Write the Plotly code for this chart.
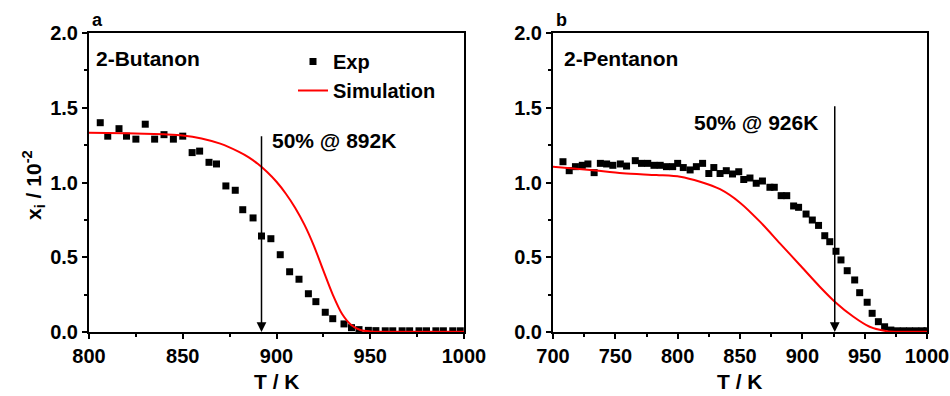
import plotly.graph_objects as go

# ---------------- data ----------------
left_exp_T = [806, 810, 816, 820, 825, 830, 835, 840, 845, 850, 855, 859, 864, 868, 873, 878, 882,
              887.5, 892, 897, 902, 907, 912, 917, 921, 926, 930, 936, 940, 944, 949, 953, 958,
              962, 967, 971, 976, 980, 985, 989, 994, 998]
left_exp_x = [1.40, 1.31, 1.36, 1.31, 1.29, 1.39, 1.29, 1.32, 1.29, 1.31, 1.20, 1.21, 1.135, 1.124,
              0.977, 0.948, 0.818, 0.763, 0.642, 0.624, 0.517, 0.403, 0.353, 0.256, 0.203, 0.132,
              0.089, 0.054, 0.029, 0.016, 0.011, 0.009, 0.008, 0.008, 0.008, 0.008, 0.008, 0.008,
              0.008, 0.008, 0.008, 0.008]
left_sim_T = [800, 820, 840, 850, 860, 870, 880, 885, 890, 895, 900, 905, 910, 915, 920, 925,
              930, 935, 940, 945, 950, 960, 980, 1000]
left_sim_x = [1.333, 1.33, 1.322, 1.315, 1.295, 1.26, 1.205, 1.17, 1.125, 1.07, 1.005, 0.925,
              0.83, 0.715, 0.575, 0.41, 0.25, 0.12, 0.045, 0.012, 0.004, 0.002, 0.002, 0.002]

right_exp_T = [708, 713, 718, 723.5, 728, 733, 738, 743, 748, 754, 759, 766, 771, 776, 781, 786, 791,
               796, 800, 804.5, 810, 815, 820, 825, 829, 834, 839, 844, 849, 853, 858, 863, 868, 874,
               877.5, 883, 887.5, 893, 897, 903, 908, 913, 918, 922, 927, 931, 936, 942, 946, 952,
               956, 961, 966, 971, 976, 981, 986, 991, 996, 1000]
right_exp_x = [1.139, 1.079, 1.106, 1.115, 1.124, 1.066, 1.128, 1.124, 1.115, 1.124, 1.11, 1.146,
               1.128, 1.128, 1.115, 1.115, 1.106, 1.106, 1.128, 1.10, 1.084, 1.106, 1.128, 1.06,
               1.10, 1.06, 1.079, 1.057, 1.072, 1.02, 1.03, 0.995, 1.01, 0.968, 0.968, 0.912, 0.912,
               0.843, 0.834, 0.789, 0.749, 0.713, 0.644, 0.604, 0.54, 0.482, 0.41, 0.348, 0.263,
               0.199, 0.125, 0.069, 0.035, 0.013, 0.008, 0.008, 0.008, 0.008, 0.008, 0.008]
right_sim_T = [700, 730, 756, 783, 802, 818, 834, 850, 866, 882, 898, 914, 926, 941, 954, 968, 980,
               1000]
right_sim_x = [1.106, 1.084, 1.062, 1.05, 1.039, 1.005, 0.955, 0.865, 0.738, 0.593, 0.448, 0.303,
               0.203, 0.102, 0.035, 0.005, 0.002, 0.002]

left_range = [800, 1000]
right_range = [700, 1000]
y_range = [0, 2.0]
left_tick_vals = [800, 850, 900, 950, 1000]
right_tick_vals = [700, 750, 800, 850, 900, 950, 1000]

left_name = "2-Butanon"
right_name = "2-Pentanon"
left_mark = ("50% @ 892K", 892, 1.32)
right_mark = ("50% @ 926K", 926, 1.52)

# ---------------- styling ----------------
FONT = "Liberation Sans, Arial, Helvetica, sans-serif"
W, H = 950, 396
ML, MR, MT, MB = 0, 0, 33, 64
L_DOM = [89 / W, 464 / W]
R_DOM = [553 / W, 927 / W]

fig = go.Figure()

mk = dict(symbol="square", size=7, color="black")
ln = dict(color="#ff0000", width=2)

fig.add_trace(go.Scatter(x=left_exp_T, y=left_exp_x, mode="markers", marker=mk, name="Exp",
                         xaxis="x", yaxis="y"))
fig.add_trace(go.Scatter(x=left_sim_T, y=left_sim_x, mode="lines",
                         line=dict(shape="spline", smoothing=0.8, **ln),
                         name="Simulation", xaxis="x", yaxis="y"))
fig.add_trace(go.Scatter(x=right_exp_T, y=right_exp_x, mode="markers", marker=mk, showlegend=False,
                         xaxis="x2", yaxis="y2"))
fig.add_trace(go.Scatter(x=right_sim_T, y=right_sim_x, mode="lines",
                         line=dict(shape="spline", smoothing=0.8, **ln),
                         showlegend=False, xaxis="x2", yaxis="y2"))

tickfont = dict(family=FONT, size=20, color="black", weight="bold")


def base_axis(**kw):
    d = dict(showline=True, linecolor="black", linewidth=2, mirror=True, showgrid=False,
             zeroline=False, ticks="outside", ticklen=5, tickwidth=1.5, tickcolor="black",
             tickfont=tickfont, fixedrange=True, automargin=False)
    d.update(kw)
    return d


def overlay_axis(**kw):
    d = dict(showline=False, showgrid=False, zeroline=False, ticks="inside", ticklen=5,
             tickwidth=1.5, tickcolor="black", showticklabels=False, fixedrange=True,
             automargin=False)
    d.update(kw)
    return d


minor_x = dict(dtick=25, ticks="outside", ticklen=3, tickwidth=1.5, tickcolor="black")
minor_y = dict(dtick=0.25, ticks="outside", ticklen=3, tickwidth=1.5, tickcolor="black")
minor_xi = dict(dtick=25, ticks="inside", ticklen=3, tickwidth=1.5, tickcolor="black")
minor_yi = dict(dtick=0.25, ticks="inside", ticklen=3, tickwidth=1.5, tickcolor="black")

fig.update_layout(
    xaxis=base_axis(domain=L_DOM, range=left_range, tickvals=left_tick_vals, anchor="y", minor=minor_x),
    yaxis=base_axis(domain=[0, 1], range=y_range, dtick=0.5, tickformat=".1f", anchor="x", minor=minor_y),
    xaxis2=base_axis(domain=R_DOM, range=right_range, tickvals=right_tick_vals, anchor="y2", minor=minor_x),
    yaxis2=base_axis(domain=[0, 1], range=y_range, dtick=0.5, tickformat=".1f", anchor="x2", minor=minor_y),
    xaxis3=overlay_axis(overlaying="x", side="top", anchor="y", range=left_range,
                        tickvals=left_tick_vals, minor=minor_xi),
    yaxis3=overlay_axis(overlaying="y", side="right", anchor="x", range=y_range, dtick=0.5,
                        minor=minor_yi),
    xaxis4=overlay_axis(overlaying="x2", side="top", anchor="y2", range=right_range,
                        tickvals=right_tick_vals, minor=minor_xi),
    yaxis4=overlay_axis(overlaying="y2", side="right", anchor="x2", range=y_range, dtick=0.5,
                        minor=minor_yi),
)

ann_font = dict(family=FONT, size=21, color="black", weight="bold")
lab_font = dict(family=FONT, size=18, color="black", weight="bold")
anns = []
# panel labels
anns.append(dict(text="a", xref="x domain", yref="paper", x=0.003, y=(332 - 20) / 299,
                 xanchor="left", yanchor="middle", showarrow=False, font=lab_font))
anns.append(dict(text="b", xref="x2 domain", yref="paper", x=0.003, y=(332 - 20) / 299,
                 xanchor="left", yanchor="middle", showarrow=False, font=lab_font))
# compound names
anns.append(dict(text=left_name, xref="x domain", yref="y", x=0.012, y=1.83, xanchor="left",
                 yanchor="middle", showarrow=False, font=ann_font))
anns.append(dict(text=right_name, xref="x2 domain", yref="y2", x=0.024, y=1.83, xanchor="left",
                 yanchor="middle", showarrow=False, font=ann_font))
# arrows
anns.append(dict(text="", xref="x", yref="y", x=left_mark[1], y=0, axref="x", ayref="y",
                 ax=left_mark[1], ay=left_mark[2], showarrow=True, arrowhead=2, arrowsize=1.3,
                 arrowwidth=1.5, arrowcolor="black"))
anns.append(dict(text="", xref="x2", yref="y2", x=right_mark[1], y=0, axref="x2", ayref="y2",
                 ax=right_mark[1], ay=right_mark[2], showarrow=True, arrowhead=2, arrowsize=1.3,
                 arrowwidth=1.5, arrowcolor="black"))
anns.append(dict(text=left_mark[0], xref="x", yref="y", x=896.5, y=1.28, xanchor="left",
                 yanchor="middle", showarrow=False, font=ann_font))
anns.append(dict(text=right_mark[0], xref="x2", yref="y2", x=914.5, y=1.40, xanchor="right",
                 yanchor="middle", showarrow=False, font=ann_font))
# axis titles
anns.append(dict(text="T / K", xref="x", yref="paper", x=900, y=(332 - 381) / 299,
                 xanchor="center", yanchor="middle", showarrow=False, font=ann_font))
anns.append(dict(text="T / K", xref="x2", yref="paper", x=850, y=(332 - 381) / 299,
                 xanchor="center", yanchor="middle", showarrow=False, font=ann_font))
anns.append(dict(text="x<sub>i</sub> / 10<sup>-2</sup>", xref="paper", yref="paper", x=33 / W,
                 y=(332 - 185) / 299, xanchor="center", yanchor="middle", textangle=-90,
                 showarrow=False, font=ann_font))

fig.update_layout(
    annotations=anns,
    width=W, height=H,
    margin=dict(l=ML, r=MR, t=MT, b=MB, autoexpand=False),
    paper_bgcolor="white", plot_bgcolor="white",
    showlegend=True,
    legend=dict(x=(293 - 89) / 375 * (L_DOM[1] - L_DOM[0]) + L_DOM[0], y=(332 - 42) / 299,
                xanchor="left", yanchor="top", bgcolor="rgba(0,0,0,0)",
                font=dict(family=FONT, size=20, color="black", weight="bold"),
                itemsizing="trace", tracegroupgap=0),
)

fig.write_html("out.html")
